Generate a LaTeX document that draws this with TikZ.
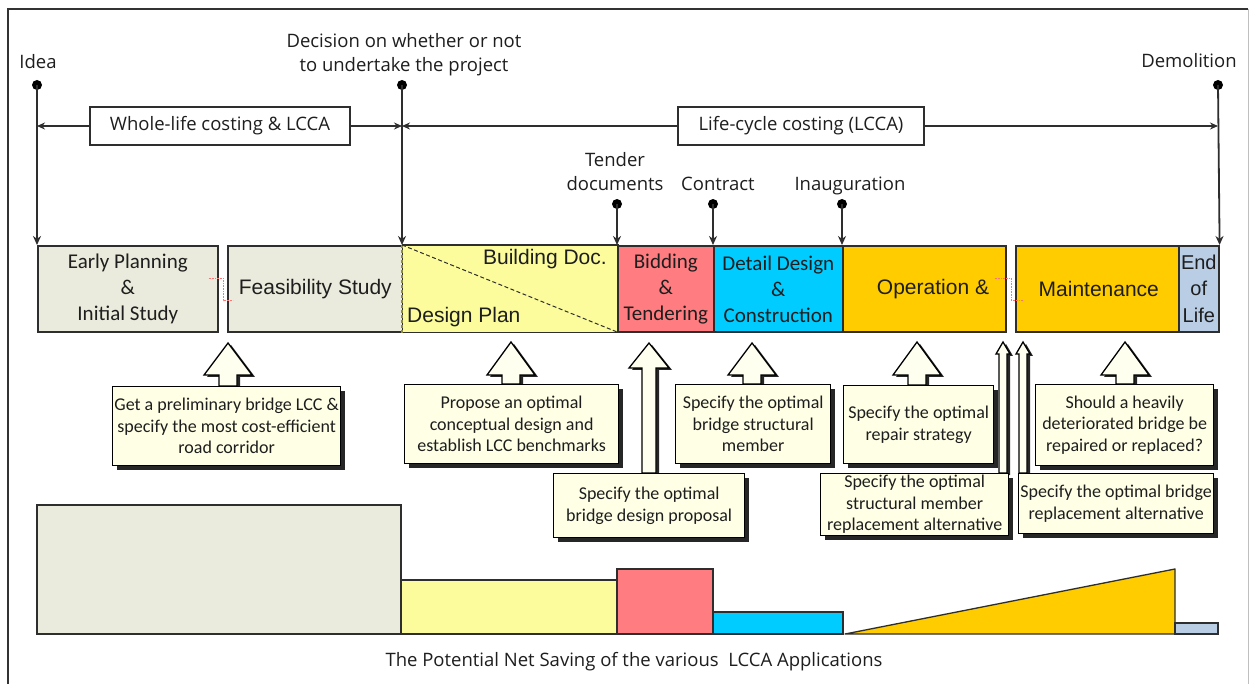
\documentclass[tikz,border=0pt]{standalone}
\usepackage{fontspec}
\newfontfamily\lblfont{Open Sans}
\newfontfamily\calfont{Carlito}
\newfontfamily\arfont{Liberation Sans}
\usetikzlibrary{arrows.meta,shadows,calc}

\pgfdeclarelayer{paper}
\pgfdeclarelayer{under}
\pgfsetlayers{paper,under,main}

\definecolor{linecol}{HTML}{2E2E2E}
\definecolor{txtcol}{HTML}{1E1E1E}
\definecolor{phgray}{HTML}{EAEBDC}
\definecolor{phyellow}{HTML}{FCFC9C}
\definecolor{phsalmon}{HTML}{FF7C80}
\definecolor{phcyan}{HTML}{00CCFF}
\definecolor{phorange}{HTML}{FFCC00}
\definecolor{phblue}{HTML}{B9CDE5}
\definecolor{calfill}{HTML}{FFFFE6}
\definecolor{arrfill}{HTML}{FFFFF0}
\definecolor{dashol}{HTML}{8C8C3C}

% block arrow pointing up from the top edge of a callout node
% #1 callout node, #2 centre x, #3 tip y, #4 head half width, #5 shaft half width, #6 head base y
\newcommand{\callarrow}[6]{%
  \path[blockarrow] let \p1=(#1.north), \p2=({#2-#5},#6), \p3=({#2+#5},#6) in
    (\x2,\y1) -- (\p2) -- ({#2-#4},#6) -- (#2,#3) -- ({#2+#4},#6) -- (\p3) -- (\x3,\y1) -- cycle;}

\begin{document}
\begin{tikzpicture}[x=1pt,y=-1pt,
  lbl/.style={font=\lblfont\fontsize{18.5}{24}\selectfont, align=center, inner sep=0pt, text=txtcol},
  tag/.style={draw=linecol, line width=1.3pt, fill=white, minimum height=38, inner sep=0pt,
              font=\lblfont\fontsize{18.5}{24}\selectfont, text=txtcol},
  dot/.style={circle, fill=black, minimum size=10, inner sep=0pt},
  tline/.style={draw=linecol, line width=1.8pt, -{Stealth[length=9pt,width=8pt]}},
  hline/.style={draw=linecol, line width=1.3pt, -{Stealth[length=8pt,width=7pt]}},
  phase/.style={draw=linecol, line width=1.6pt, minimum height=86, inner sep=0pt,
                anchor=north west, align=center, text=txtcol},
  calx/.style={font=\calfont\fontsize{21}{26}\selectfont},
  arx/.style={font=\arfont\fontsize{21}{26}\selectfont},
  callout/.style={draw=black, line width=1.3pt, fill=calfill, inner sep=1pt, align=center,
                  anchor=north west, text=txtcol,
                  font=\calfont\fontsize{18}{21.5}\selectfont,
                  drop shadow={shadow xshift=4pt, shadow yshift=-4pt, fill=black, opacity=0.85}},
  blockarrow/.style={draw=black, line width=1.3pt, fill=arrfill, line join=miter,
                  drop shadow={shadow xshift=3pt, shadow yshift=-2pt, fill=black, opacity=0.85}},
  elbow/.style={draw=red!55, line width=0.6pt, densely dotted},
  bar/.style={draw=linecol, line width=1.3pt}
]
\useasboundingbox (0,0) rectangle (1250,684);
\begin{pgfonlayer}{paper}
  \fill[white] (0,0) rectangle (1250,684);
\end{pgfonlayer}

% outer frame
\draw[line width=1.3pt, draw=black!80] (8,700) -- (8,9) -- (1248,9);
\draw[line width=1pt, draw=black!25] (1248,9) -- (1248,700);

% ---------- phases ----------
\node[phase, calx, fill=phgray, minimum width=180] (ep) at (37,245) {Early Planning\\\&\\Initial Study};
\node[phase, arx, fill=phgray, minimum width=175] (fs) at (227,245) {Feasibility Study};
\node[phase, draw=none, fill=phyellow, minimum width=215] (dp) at (402,245) {};
\draw[linecol, line width=1.6pt] (dp.north west) -- (dp.north east) -- (dp.south east) -- (dp.south west);
\draw[dashol, line width=1.6pt, dash pattern=on 3pt off 2pt] (dp.south west) -- (dp.north west);
\draw[linecol, line width=1pt, dash pattern=on 4pt off 2.5pt] (dp.north west) -- (dp.south east);
\node[arx, anchor=east, inner sep=0pt, text=txtcol] (dp-top) at (607,259) {Building Doc.};
\node[arx, anchor=west, inner sep=0pt, text=txtcol] (dp-bot) at (407,317) {Design Plan};
\node[phase, calx, fill=phsalmon, minimum width=96] (bt) at (617,245) {Bidding\\\&\\Tendering};
\node[phase, calx, fill=phcyan, minimum width=129] (dc) at (713,245) {Detail Design\\\&\\Construction};
\node[phase, fill=phorange, minimum width=163] (om1) at (842,245) {};
\node[arx, inner sep=0pt, text=txtcol] (om1-t) at (933,289) {Operation \&};
\node[phase, arx, fill=phorange, minimum width=163] (om2) at (1015,245) {\hspace*{3pt}Maintenance};
\node[phase, fill=phblue, minimum width=40, font=\arfont\fontsize{20}{26.5}\selectfont] (eol) at (1178,245) {End\\of\\Life};

% faint elbow connectors between split boxes
\draw[elbow] ([yshift=10pt,xshift=-10pt]ep.east) -- ++(15,0) |- ([yshift=-12pt,xshift=6pt]fs.west);
\draw[elbow] ([yshift=10pt,xshift=-12pt]om1.east) -- ++(17,0) |- ([yshift=-12pt,xshift=8pt]om2.west);

% ---------- milestones ----------
\node[dot] (m-idea) at (37,85) {};
\node[dot] (m-dec) at (402,85) {};
\node[dot] (m-dem) at (1218,85) {};
\node[dot] (m-ten) at (617,204) {};
\node[dot] (m-con) at (713,204) {};
\node[dot] (m-ina) at (842,204) {};

\node[lbl, anchor=base] (l-idea) at (38,69) {Idea};
\node[lbl] (l-dec) at (404,55) {Decision on whether or not\\to undertake the project};
\node[lbl, anchor=base] (l-dem) at (1189,68) {Demolition};
\node[lbl] (l-ten) at (615,172) {Tender\\documents};
\node[lbl, anchor=base] (l-con) at (718,191) {Contract};
\node[lbl, anchor=base] (l-ina) at (850,191) {Inauguration};

\draw[tline] (m-idea.center) -- (ep.north west);
\draw[tline] (m-dec.center) -- (dp.north west);
\draw[tline] (m-dem.center) -- (eol.north east);
\draw[tline] (m-ten.center) -- (bt.north west);
\draw[tline] (m-con.center) -- (dc.north west);
\draw[tline] (m-ina.center) -- (om1.north west);

% ---------- costing spans ----------
\node[tag, minimum width=260] (wl) at (220,126) {Whole-life costing \& LCCA};
\node[tag, minimum width=246] (lc) at (801,126) {Life-cycle costing (LCCA)};
\draw[hline] (wl.west) -- (wl.west -| m-idea);
\draw[hline] (wl.east) -- (wl.east -| m-dec);
\draw[hline] (lc.west) -- (lc.west -| m-dec);
\draw[hline] (lc.east) -- (lc.east -| m-dem);

% ---------- callouts ----------
\node[callout, minimum width=228, minimum height=79] (c1) at (112,386) {Get a preliminary bridge LCC \&\\specify the most cost-efficient\\road corridor};
\node[callout, minimum width=214, minimum height=79] (c2) at (404,384) {Propose an optimal\\conceptual design and\\establish LCC benchmarks};
\node[callout, minimum width=191, minimum height=64] (c3) at (553,473) {Specify the optimal\\bridge design proposal};
\node[callout, minimum width=155, minimum height=79] (c4) at (675,384) {Specify the optimal\\bridge structural\\member};
\node[callout, minimum width=150, minimum height=78] (c5) at (843,385) {Specify the optimal\\repair strategy};
\node[callout, minimum width=188, minimum height=62] (c6) at (820,473) {Specify the optimal\\structural member\\replacement alternative};
\node[callout, minimum width=195, minimum height=60] (c7) at (1018,473) {Specify the optimal bridge\\replacement alternative};
\node[callout, minimum width=178, minimum height=81] (c8) at (1035,384) {Should a heavily\\deteriorated bridge be\\repaired or replaced?};

% block arrows sit underneath the boxes they rise from
\begin{pgfonlayer}{under}
\callarrow{c1}{228}{343}{24}{9}{375}
\callarrow{c2}{511}{342}{24}{9}{375}
\callarrow{c3}{649}{343}{20}{7}{368}
\callarrow{c4}{752}{343}{24}{9}{375}
\callarrow{c5}{917}{342}{24}{9}{375}
\callarrow{c6}{1003}{342}{7}{4}{354}
\callarrow{c7}{1023}{342}{7}{4}{354}
\callarrow{c8}{1125}{342}{24}{9}{375}
\end{pgfonlayer}

% ---------- potential net saving ----------
\draw[bar, fill=phgray] (37,505) rectangle (401,634);
\draw[bar, fill=phyellow] (401,580) rectangle (617,634);
\draw[bar, fill=phsalmon] (617,569) rectangle (713,634);
\draw[bar, fill=phcyan] (713,612) rectangle (843,634);
\draw[bar, fill=phorange, line join=round] (845,634) -- (1175,569) -- (1175,634) -- cycle;
\draw[bar, fill=phblue] (1175,623) rectangle (1218,634);
\node[lbl, anchor=base] (cap) at (634,666) {The Potential Net Saving of the various\ \ LCCA Applications};
\end{tikzpicture}
\end{document}
